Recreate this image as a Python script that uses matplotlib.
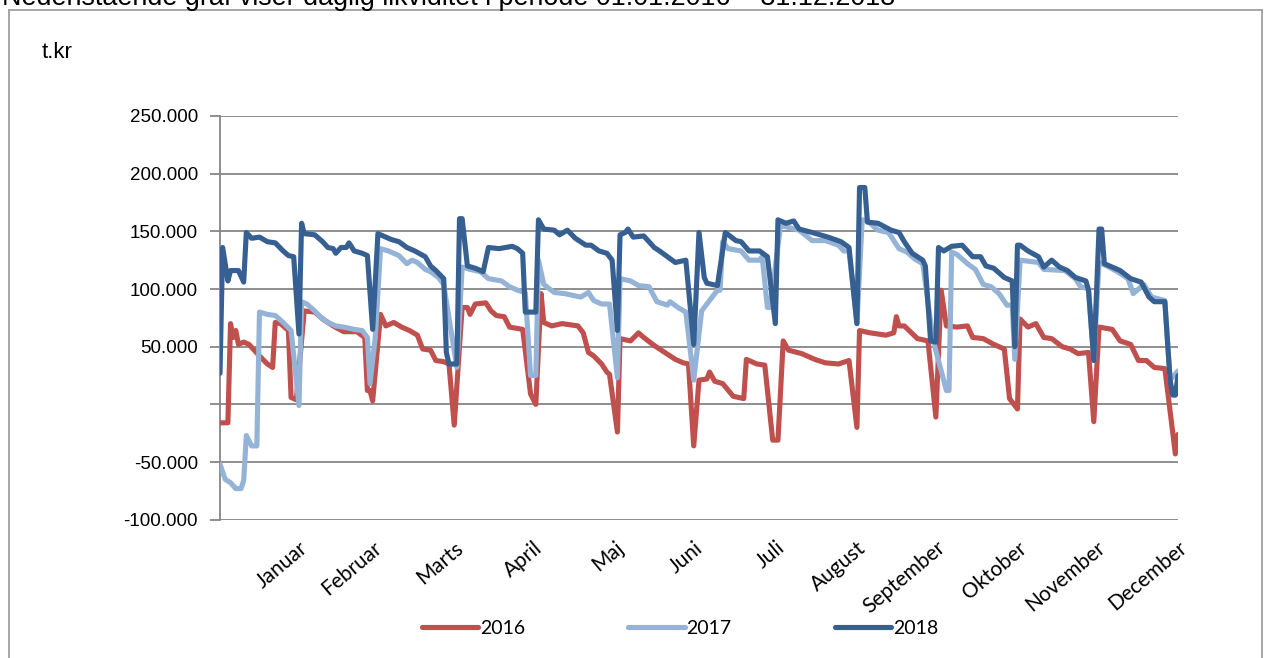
import matplotlib
matplotlib.use("Agg")
import matplotlib.pyplot as plt
from matplotlib.ticker import FuncFormatter, FixedLocator
from matplotlib.lines import Line2D

# daily liquidity, t.kr (in thousands), keyed by day of year (0 = 1 Jan)
days_2016 = [0, 3, 4, 5, 6, 7, 9, 11, 13, 15, 18, 20, 21, 23, 26, 27, 29, 32, 36, 39,
             43, 47, 52, 55, 56, 57, 58, 61, 63, 66, 69, 72, 75, 77, 80, 82, 85, 87, 89, 92,
             94, 95, 97, 101, 103, 105, 108, 110, 115, 118, 120, 122, 123, 126, 130, 136, 138, 140, 142, 145,
             147, 148, 151, 152, 156, 159, 161, 165, 169, 173, 176, 178, 180, 182, 185, 186, 188, 191, 195, 199,
             200, 204, 207, 210, 212, 214, 216, 221, 226, 230, 235, 239, 242, 243, 247, 253, 256, 257, 258, 260,
             265, 269, 272, 274, 276, 280, 284, 286, 290, 294, 298, 300, 303, 304, 307, 310, 313, 316, 320, 323,
             326, 330, 332, 334, 339, 342, 346, 349, 352, 355, 359, 363, 364]
vals_2016 = [-16, -16, 70, 58, 64, 52, 54, 52, 47, 42, 35, 32, 71, 70, 64, 6, 4, 81, 80, 74,
             68, 63, 63, 58, 12, 12, 3, 78, 68, 71, 67, 64, 60, 48, 47, 38, 37, 35, -18, 84,
             84, 78, 87, 88, 81, 77, 76, 67, 65, 9, 0, 96, 71, 68, 70, 68, 62, 45, 42, 35,
             28, 26, -24, 57, 55, 62, 58, 51, 45, 39, 36, 35, -36, 21, 22, 28, 20, 18, 7, 5,
             39, 35, 34, -31, -31, 55, 47, 44, 39, 36, 35, 38, -20, 64, 62, 60, 62, 76, 68, 68,
             57, 55, -11, 99, 68, 67, 68, 58, 57, 52, 48, 5, -4, 74, 67, 70, 58, 57, 50, 48,
             44, 45, -15, 67, 65, 55, 52, 38, 38, 32, 31, -43, -26]

days_2017 = [0, 2, 4, 6, 8, 9, 10, 12, 14, 15, 18, 21, 24, 27, 30, 31, 33, 36, 38, 41,
             44, 47, 51, 54, 56, 57, 59, 61, 64, 68, 71, 73, 75, 78, 80, 83, 85, 90, 92, 95,
             99, 102, 107, 110, 113, 116, 118, 120, 121, 123, 127, 131, 135, 137, 140, 142, 145, 148, 151, 152,
             156, 159, 163, 166, 170, 171, 174, 177, 180, 183, 186, 189, 190, 191, 193, 198, 201, 205, 206, 208,
             209, 213, 215, 220, 225, 230, 235, 237, 239, 242, 244, 246, 250, 254, 258, 261, 264, 267, 271, 276,
             277, 278, 280, 284, 287, 290, 293, 296, 299, 301, 302, 304, 311, 313, 321, 325, 327, 330, 332, 334,
             337, 341, 345, 347, 351, 354, 359, 361, 364]
vals_2017 = [-52, -65, -68, -73, -73, -66, -27, -36, -36, 80, 78, 77, 71, 64, -1, 89, 87, 81, 76, 71,
             68, 67, 65, 64, 58, 18, 58, 135, 133, 129, 122, 125, 123, 117, 115, 110, 104, 32, 119, 117,
             115, 109, 107, 102, 99, 97, 25, 25, 125, 104, 97, 96, 94, 93, 97, 90, 87, 87, 23, 109,
             107, 103, 102, 89, 86, 89, 84, 80, 21, 81, 90, 99, 99, 141, 135, 133, 125, 125, 128, 84,
             84, 155, 154, 151, 142, 142, 138, 133, 133, 70, 160, 159, 151, 149, 135, 132, 126, 122, 55, 12,
             12, 132, 130, 122, 117, 104, 102, 96, 86, 86, 39, 125, 123, 117, 116, 109, 102, 100, 38, 123,
             120, 115, 109, 96, 104, 93, 90, 21, 29]

days_2018 = [0, 1, 3, 4, 7, 9, 10, 12, 15, 18, 21, 24, 26, 28, 30, 31, 32, 36, 39, 41,
             43, 44, 46, 48, 49, 51, 54, 56, 58, 60, 61, 65, 68, 71, 74, 78, 80, 82, 85, 86,
             87, 90, 91, 92, 94, 97, 100, 102, 106, 111, 113, 115, 116, 120, 121, 123, 127, 129, 132, 135,
             139, 141, 144, 147, 149, 151, 152, 154, 155, 157, 161, 165, 167, 170, 173, 177, 180, 182, 184, 185,
             189, 192, 196, 198, 201, 205, 208, 211, 212, 215, 218, 220, 225, 231, 236, 239, 242, 243, 245, 246,
             250, 255, 258, 260, 263, 267, 268, 270, 272, 273, 275, 278, 282, 284, 286, 289, 291, 294, 298, 301,
             302, 303, 304, 307, 311, 313, 316, 319, 322, 325, 329, 330, 332, 334, 335, 336, 340, 342, 346, 350,
             353, 355, 359, 361, 362, 363, 364]
vals_2018 = [27, 136, 107, 116, 116, 106, 149, 144, 145, 141, 140, 133, 129, 128, 61, 157, 148, 147, 141, 136,
             135, 131, 136, 136, 140, 133, 131, 129, 65, 148, 147, 143, 141, 136, 133, 128, 120, 116, 109, 45,
             35, 35, 161, 161, 120, 118, 115, 136, 135, 137, 135, 131, 80, 80, 160, 152, 151, 147, 151, 144,
             138, 138, 133, 131, 125, 64, 147, 149, 152, 145, 146, 136, 133, 128, 123, 125, 52, 149, 110, 105,
             103, 149, 142, 141, 133, 133, 128, 70, 160, 157, 159, 152, 149, 145, 141, 136, 70, 188, 188, 158,
             157, 151, 149, 141, 131, 125, 120, 55, 54, 136, 133, 137, 138, 133, 128, 128, 120, 118, 110, 107,
             50, 138, 138, 133, 128, 119, 125, 119, 116, 110, 107, 99, 38, 152, 152, 122, 118, 116, 109, 106,
             93, 89, 89, 21, 8, 8, 25]

months = ["Januar", "Februar", "Marts", "April", "Maj", "Juni", "Juli", "August",
          "September", "Oktober", "November", "December"]
month_ends = [30, 58, 89, 119, 150, 180, 211, 242, 272, 303, 333, 364]
y_ticks = [-100, -50, 0, 50, 100, 150, 200, 250]

series = [
    ("2016", days_2016, vals_2016, "#C0504D"),
    ("2017", days_2017, vals_2017, "#95B3D7"),
    ("2018", days_2018, vals_2018, "#376092"),
]

W, H = 1271, 658
fig = plt.figure(figsize=(W / 100, H / 100), dpi=100)
calib = ["Lato", "DejaVu Sans"]

# outer frame of the text box
frame_kw = dict(color="#A0A0A0", lw=1.3, transform=fig.transFigure)
fig.add_artist(Line2D([9 / W, 9 / W], [0, 1 - 10 / H], **frame_kw))
fig.add_artist(Line2D([9 / W, 1262 / W], [1 - 10 / H, 1 - 10 / H], **frame_kw))
fig.add_artist(Line2D([1262 / W, 1262 / W], [0, 1 - 10 / H], **frame_kw))

fig.text(2 / W, 1 - 5 / H,
         "Nedenstående graf viser daglig likviditet i periode 01.01.2016 – 31.12.2018",
         fontsize=19.4, family="Liberation Sans", va="baseline", ha="left")
fig.text(42 / W, 1 - 52 / H, "t.kr", fontsize=16, family="Liberation Sans",
         va="center", ha="left")

ax = fig.add_axes([220 / W, 1 - 519.7 / H, 958 / W, (519.7 - 116) / H])
for name, d, v, col in series:
    ax.plot(d, v, color=col, lw=3.7, solid_joinstyle="round",
            solid_capstyle="round", label=name, zorder=3)

ax.set_xlim(0, 364)
ax.set_ylim(-100, 250)
ax.yaxis.set_major_locator(FixedLocator(y_ticks))
ax.yaxis.set_major_formatter(FuncFormatter(
    lambda y, _: "" if y == 0 else f"{y * 1000:,.0f}".replace(",", ".")))
ax.set_xticks(month_ends)
ax.set_xticklabels(months, rotation=40, ha="right", va="top",
                   rotation_mode="anchor", family=calib, fontsize=15)
ax.tick_params(axis="x", length=0, pad=13)
ax.tick_params(axis="y", length=7, width=1.3, color="#868686", pad=9,
               labelsize=13.5)
for lab in ax.get_yticklabels():
    lab.set_family("Liberation Sans")

ax.grid(axis="y", color="#868686", lw=1.3, zorder=1)
for side in ("top", "right", "bottom"):
    ax.spines[side].set_visible(False)
ax.spines["left"].set_color("#868686")
ax.spines["left"].set_linewidth(1.3)

fig.legend(loc="center", bbox_to_anchor=(680 / W, 1 - 628 / H), ncol=3,
           frameon=False, handlelength=2.9, handletextpad=0.1,
           columnspacing=5.3, prop={"family": calib, "size": 14})

fig.savefig("out.png", dpi=100)
